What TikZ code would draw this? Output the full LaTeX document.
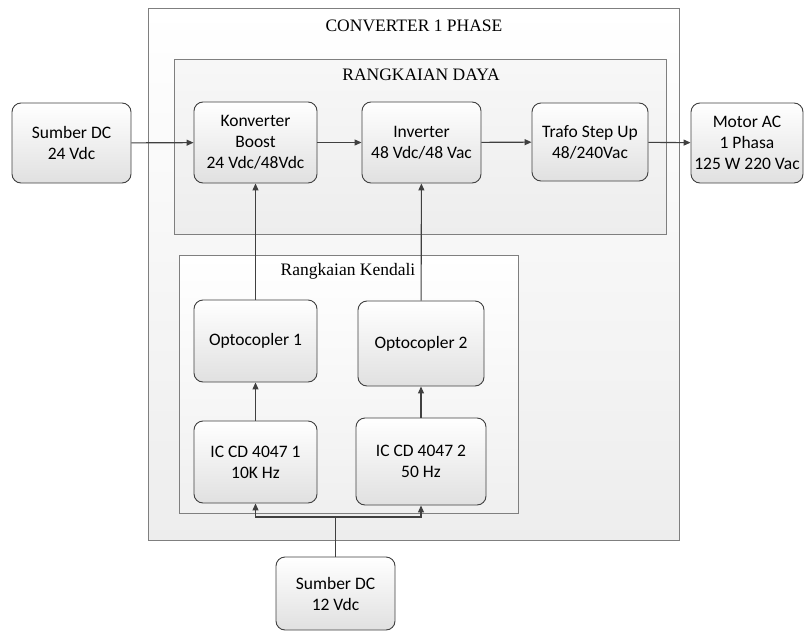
\documentclass[tikz,border=0pt]{standalone}
\usepackage{fontspec}
\setmainfont{Liberation Serif}
\newfontfamily\boxfont{Carlito}
\usetikzlibrary{arrows.meta}

\definecolor{lineGray}{HTML}{404040}
\definecolor{frameGray}{HTML}{7F7F7F}

\begin{document}
\begin{tikzpicture}
[x=1pt,y=-1pt,
  blockDecorate/.style={draw=lineGray,line width=0.9pt,rounded corners=9pt,
    top color=white,bottom color=black!12,align=center,inner sep=1pt,
    font=\boxfont\fontsize{17.5}{21}\selectfont},%
  groupDecorate/.style={draw=frameGray,line width=1pt},%
  titleDecorate/.style={font=\fontsize{17.5}{21}\selectfont},%
  lineDecorate/.style={draw=lineGray,line width=1.1pt,-{Triangle[length=7pt,width=6pt]}}]
\useasboundingbox (0,0) rectangle (804,632);
%% groups
\path[groupDecorate,top color=white,bottom color=black!7] (148,8) rectangle (679,540);
\path[groupDecorate,top color=black!3,bottom color=black!7] (174,59) rectangle (666,234);
\path[groupDecorate,top color=white,bottom color=black!6] (179,255) rectangle (518,513);
\node[titleDecorate] (tconv) at (414,26) {CONVERTER 1 PHASE};
\node[titleDecorate] (tdaya) at (421,75) {RANGKAIAN DAYA};
\node[titleDecorate] (tkendali) at (348,271) {Rangkaian Kendali};
%% blocks
\foreach \nodename/\x/\y/\w/\h/\txt in {%
  sdcA/71.5/143/119/80/{Sumber DC\\24 Vdc},
  boost/255.5/142.5/123/81/{Konverter\\Boost\\24 Vdc/48Vdc},
  inverter/421.5/142.5/119/81/{Inverter\\48 Vdc/48 Vac},
  trafo/590/142/116/78/{Trafo Step Up\\48/240Vac},
  motor/747/143/112/80/{Motor AC\\1 Phasa\\125 W 220 Vac},
  optoA/255.5/341/123/82/{Optocopler 1},
  optoB/421/343.5/126/85/{Optocopler 2},
  icA/255.5/462/123/82/{IC CD 4047 1\\10K Hz},
  icB/421/461.5/130/87/{IC CD 4047 2\\50 Hz},
  sdcB/335.5/593.5/119/73/{Sumber DC\\12 Vdc}}
{
  \node (\nodename) at (\x,\y) [blockDecorate,minimum width=\w pt,minimum height=\h pt] {\txt};
}
\coordinate (bus) at (335.5,517);
%% connectors
\path
\foreach \startnode/\endnode in {sdcA/boost, boost/inverter, inverter/trafo, trafo/motor,
  optoA/boost, optoB/inverter, icA/optoA, icB/optoB}
{
  (\startnode) edge[lineDecorate] (\endnode)
};
\draw[lineDecorate,-] (sdcB.north) -- (bus);
\draw[lineDecorate] (bus) -| (icA.south);
\draw[lineDecorate] (bus) -| (icB.south);
\end{tikzpicture}
\end{document}
